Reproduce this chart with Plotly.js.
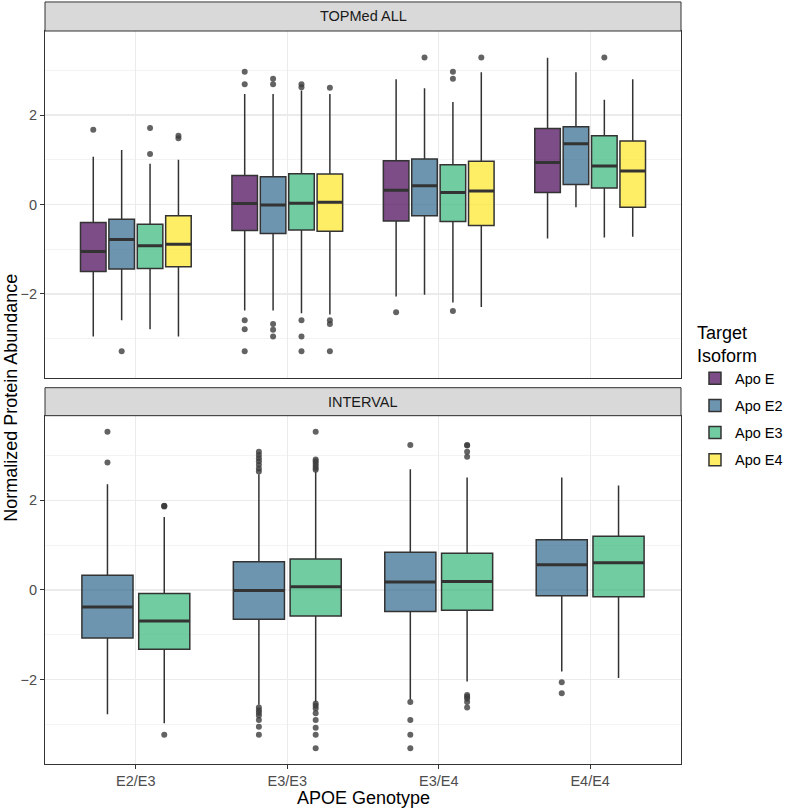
<!DOCTYPE html>
<html>
<head>
<meta charset="utf-8">
<script src="https://cdn.plot.ly/plotly-3.0.1.min.js"></script>
<style>html,body{margin:0;padding:0;background:#fff;}#chart{width:800px;height:810px;}</style>
</head>
<body>
<div id="chart"></div>
<script>
// ---------- data ----------
const categories = ['E2/E3', 'E3/E3', 'E3/E4', 'E4/E4'];
const isoforms = ['Apo E', 'Apo E2', 'Apo E3', 'Apo E4'];
const panelTitles = ['TOPMed ALL', 'INTERVAL'];

// TOPMed ALL
const topApoE_q1  = [-1.50, -0.58, -0.37, 0.27];
const topApoE_med = [-1.05,  0.02,  0.32, 0.94];
const topApoE_q3  = [-0.40,  0.65,  0.98, 1.70];
const topApoE_lo  = [-2.95, -2.37, -2.06, -0.76];
const topApoE_hi  = [ 1.07,  2.47,  2.80, 3.28];
const topApoE_out = [[1.67], [2.97, 2.69, -2.59, -2.79, -3.28], [-2.41], []];

const topApoE2_q1  = [-1.44, -0.65, -0.25, 0.45];
const topApoE2_med = [-0.78, -0.01,  0.42, 1.36];
const topApoE2_q3  = [-0.33,  0.62,  1.02, 1.74];
const topApoE2_lo  = [-2.59, -2.37, -2.02, -0.06];
const topApoE2_hi  = [ 1.22,  2.47,  2.60, 2.96];
const topApoE2_out = [[-3.28], [2.81, 2.69, -2.67, -2.80, -2.95], [3.29], []];

const topApoE3_q1  = [-1.43, -0.57, -0.38, 0.37];
const topApoE3_med = [-0.92,  0.03,  0.27, 0.86];
const topApoE3_q3  = [-0.44,  0.69,  0.89, 1.54];
const topApoE3_lo  = [-2.79, -2.43, -2.19, -0.74];
const topApoE3_hi  = [ 0.91,  2.55,  2.29, 2.34];
const topApoE3_out = [[1.71, 1.13], [2.69, 2.62, -2.59, -2.95, -3.28], [2.97, 2.81, -2.38], [3.29]];

const topApoE4_q1  = [-1.39, -0.60, -0.47, -0.06];
const topApoE4_med = [-0.89,  0.05,  0.30, 0.75];
const topApoE4_q3  = [-0.25,  0.68,  0.97, 1.42];
const topApoE4_lo  = [-2.95, -2.46, -2.29, -0.72];
const topApoE4_hi  = [ 1.00,  2.47,  2.96, 2.80];
const topApoE4_out = [[1.54, 1.48], [2.61, -2.59, -2.67, -3.28], [3.29], []];

// INTERVAL
const intApoE2_q1  = [-1.07, -0.65, -0.48, -0.13];
const intApoE2_med = [-0.38, -0.01,  0.18, 0.56];
const intApoE2_q3  = [ 0.33,  0.63,  0.84, 1.12];
const intApoE2_lo  = [-2.77, -2.56, -2.44, -1.82];
const intApoE2_hi  = [ 2.36,  2.58,  2.69, 2.51];
const intApoE2_out = [[3.53, 2.84],
  [3.08, 3.01, 2.94, 2.87, 2.79, 2.71, 2.64, -2.62, -2.68, -2.74, -2.80, -2.90, -3.05, -3.23],
  [3.23, -2.50, -2.90, -3.23, -3.53],
  [-2.06, -2.30]];

const intApoE3_q1  = [-1.32, -0.58, -0.45, -0.15];
const intApoE3_med = [-0.69,  0.07,  0.19, 0.61];
const intApoE3_q3  = [-0.08,  0.69,  0.82, 1.20];
const intApoE3_lo  = [-2.97, -2.49, -2.04, -1.96];
const intApoE3_hi  = [ 1.63,  2.64,  2.51, 2.33];
const intApoE3_out = [[1.87, 1.86, 1.88, -3.23],
  [3.53, 2.91, 2.87, 2.82, 2.77, 2.72, 2.68, -2.53, -2.58, -2.64, -2.75, -2.90, -3.07, -3.23, -3.53],
  [3.23, 3.22, 3.08, 2.97, -2.34, -2.38, -2.42, -2.50, -2.62],
  []];

// ---------- styling ----------
const fills = ['rgba(68,1,84,0.7)', 'rgba(49,104,142,0.7)', 'rgba(53,183,121,0.7)', 'rgba(253,231,37,0.7)'];
const FONT = 'Liberation Sans, Arial, sans-serif';
const TXT = 14.5;

function mkBox(name, idx, q1, med, q3, lo, hi, out, xa, ya, showlegend, agroup) {
  return {
    type: 'box', name: name, x: categories, y: out,
    q1: q1, median: med, q3: q3, lowerfence: lo, upperfence: hi,
    boxpoints: 'outliers', jitter: 0, pointpos: 0, whiskerwidth: 0,
    fillcolor: fills[idx],
    line: {color: '#333333', width: 1.5},
    marker: {color: 'rgba(60,60,60,0.8)', size: 6, line: {width: 0}, outliercolor: 'rgba(60,60,60,0.8)'},
    xaxis: xa, yaxis: ya, showlegend: showlegend,
    legendgroup: name, offsetgroup: name, alignmentgroup: agroup,
    hoverinfo: 'y'
  };
}
// thicker median bar overlay (same slot as its box)
function mkMedian(name, med, xa, ya, agroup) {
  return {
    type: 'box', name: name, x: categories,
    q1: med, median: med, q3: med, lowerfence: med, upperfence: med,
    boxpoints: false, whiskerwidth: 0,
    fillcolor: 'rgba(0,0,0,0)', line: {color: '#333333', width: 3},
    xaxis: xa, yaxis: ya, showlegend: false,
    legendgroup: name, offsetgroup: name, alignmentgroup: agroup,
    hoverinfo: 'skip'
  };
}

const traces = [
  mkBox(isoforms[0], 0, topApoE_q1, topApoE_med, topApoE_q3, topApoE_lo, topApoE_hi, topApoE_out, 'x', 'y', true, 'top'),
  mkBox(isoforms[1], 1, topApoE2_q1, topApoE2_med, topApoE2_q3, topApoE2_lo, topApoE2_hi, topApoE2_out, 'x', 'y', true, 'top'),
  mkBox(isoforms[2], 2, topApoE3_q1, topApoE3_med, topApoE3_q3, topApoE3_lo, topApoE3_hi, topApoE3_out, 'x', 'y', true, 'top'),
  mkBox(isoforms[3], 3, topApoE4_q1, topApoE4_med, topApoE4_q3, topApoE4_lo, topApoE4_hi, topApoE4_out, 'x', 'y', true, 'top'),
  mkBox(isoforms[1], 1, intApoE2_q1, intApoE2_med, intApoE2_q3, intApoE2_lo, intApoE2_hi, intApoE2_out, 'x2', 'y2', false, 'bot'),
  mkBox(isoforms[2], 2, intApoE3_q1, intApoE3_med, intApoE3_q3, intApoE3_lo, intApoE3_hi, intApoE3_out, 'x2', 'y2', false, 'bot'),
  mkMedian(isoforms[0], topApoE_med, 'x', 'y', 'top'),
  mkMedian(isoforms[1], topApoE2_med, 'x', 'y', 'top'),
  mkMedian(isoforms[2], topApoE3_med, 'x', 'y', 'top'),
  mkMedian(isoforms[3], topApoE4_med, 'x', 'y', 'top'),
  mkMedian(isoforms[1], intApoE2_med, 'x2', 'y2', 'bot'),
  mkMedian(isoforms[2], intApoE3_med, 'x2', 'y2', 'bot')
];

const yRange = [-3.88, 3.88];
const xBase = {
  type: 'category', categoryorder: 'array', categoryarray: categories,
  range: [-0.6, 3.6], showgrid: true, gridcolor: '#EBEBEB', gridwidth: 1.2,
  zeroline: false, showline: true, mirror: true, linecolor: '#333333', linewidth: 1,
  tickfont: {family: FONT, size: TXT, color: '#4D4D4D'}, fixedrange: true
};
const yBase = {
  range: yRange, tick0: 0, dtick: 2, showgrid: true, gridcolor: '#EBEBEB', gridwidth: 1.2,
  minor: {dtick: 1, showgrid: true, gridcolor: '#EBEBEB', gridwidth: 0.6, ticks: ''},
  zeroline: false, showline: true, mirror: true, linecolor: '#333333', linewidth: 1,
  ticks: 'outside', ticklen: 4, tickcolor: '#333333', tickwidth: 1,
  tickfont: {family: FONT, size: TXT, color: '#4D4D4D'}, fixedrange: true
};

const topDom = [0.5266, 1];
const botDom = [0, 0.4748];

const layout = {
  width: 800, height: 810,
  margin: {l: 45, r: 114, t: 31, b: 46},
  paper_bgcolor: '#ffffff', plot_bgcolor: '#ffffff',
  font: {family: FONT, color: '#000000'},
  boxmode: 'group', boxgap: 0.25, boxgroupgap: 0.1,
  xaxis: Object.assign({}, xBase, {anchor: 'y', domain: [0, 1], showticklabels: false, ticks: ''}),
  yaxis: Object.assign({}, yBase, {anchor: 'x', domain: topDom}),
  xaxis2: Object.assign({}, xBase, {anchor: 'y2', domain: [0, 1], showticklabels: true, ticks: 'outside', ticklen: 4, tickcolor: '#333333'}),
  yaxis2: Object.assign({}, yBase, {anchor: 'x2', domain: botDom}),
  showlegend: true,
  legend: {
    x: 1.022, xanchor: 'left', y: 0.6118, yanchor: 'top',
    title: {text: 'Target<br>Isoform', font: {family: FONT, size: 18, color: '#000'}},
    font: {family: FONT, size: TXT, color: '#000'},
    tracegroupgap: 5.3, bgcolor: 'rgba(0,0,0,0)', traceorder: 'grouped'
  },
  shapes: [
    {type: 'rect', xref: 'paper', yref: 'paper', x0: 0, x1: 1, y0: 1, y1: 1.0396,
     fillcolor: '#D9D9D9', line: {color: '#333333', width: 1}, layer: 'above'},
    {type: 'rect', xref: 'paper', yref: 'paper', x0: 0, x1: 1, y0: 0.4752, y1: 0.5134,
     fillcolor: '#D9D9D9', line: {color: '#333333', width: 1}, layer: 'above'}
  ],
  annotations: [
    {text: panelTitles[0], xref: 'paper', yref: 'paper', x: 0.5, y: 1.0198, xanchor: 'center', yanchor: 'middle',
     showarrow: false, font: {family: FONT, size: TXT, color: '#1A1A1A'}},
    {text: panelTitles[1], xref: 'paper', yref: 'paper', x: 0.5, y: 0.4943, xanchor: 'center', yanchor: 'middle',
     showarrow: false, font: {family: FONT, size: TXT, color: '#1A1A1A'}},
    {text: 'APOE Genotype', xref: 'paper', yref: 'paper', x: 0.5, y: -0.0464, xanchor: 'center', yanchor: 'middle',
     showarrow: false, font: {family: FONT, size: 18, color: '#000'}},
    {text: 'Normalized Protein Abundance', xref: 'paper', yref: 'paper', x: -0.0546, y: 0.5, xanchor: 'center', yanchor: 'middle',
     textangle: -90, showarrow: false, font: {family: FONT, size: 18, color: '#000'}}
  ]
};

Plotly.newPlot('chart', traces, layout, {displayModeBar: false, staticPlot: true});
</script>
</body>
</html>
